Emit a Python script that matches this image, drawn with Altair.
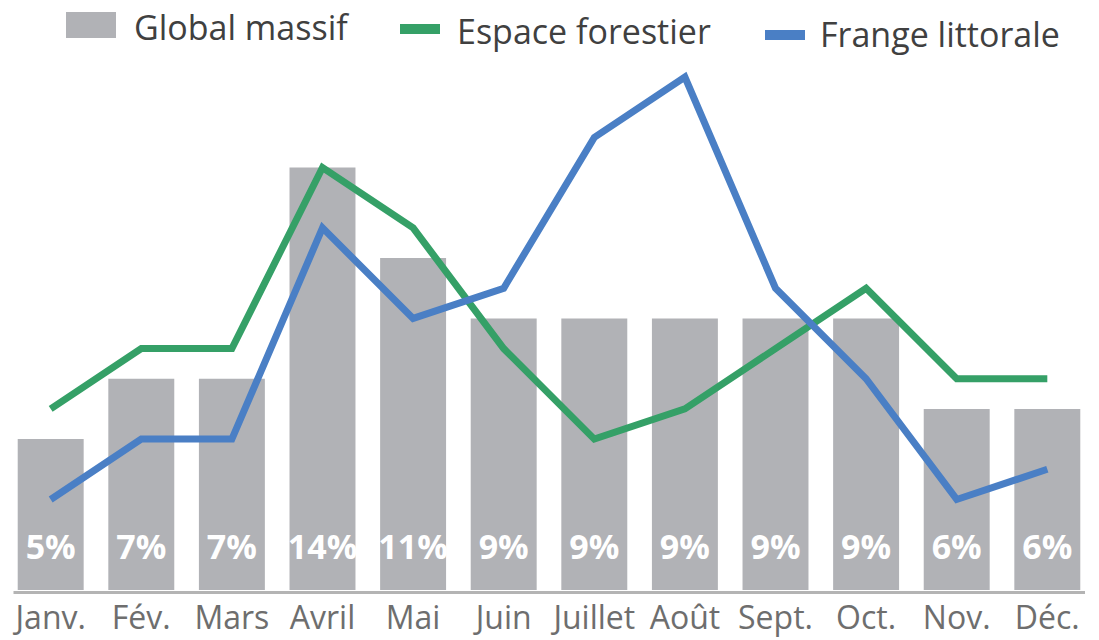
import altair as alt
import pandas as pd

months = ["Janv.", "Fév.", "Mars", "Avril", "Mai", "Juin", "Juillet", "Août", "Sept.", "Oct.", "Nov.", "Déc."]
global_massif = [5, 7, 7, 14, 11, 9, 9, 9, 9, 9, 6, 6]
espace_forestier = [6, 8, 8, 14, 12, 8, 5, 6, 8, 10, 7, 7]
frange_littorale = [3, 5, 5, 12, 9, 10, 15, 17, 10, 7, 3, 4]

series_names = ["Global massif", "Espace forestier", "Frange littorale"]
series_colors = ["#b1b2b6", "#35a067", "#4a7fc5"]

FONT = "Open Sans"

df_bar = pd.DataFrame({"mois": months, "val": global_massif,
                       "lab": [f"{v}%" for v in global_massif]})
df_lines = pd.DataFrame({
    "mois": months * 2,
    "val": espace_forestier + frange_littorale,
    "serie": [series_names[1]] * 12 + [series_names[2]] * 12,
})

x = alt.X("mois:N", sort=months, title=None,
          scale=alt.Scale(paddingInner=0.272, paddingOuter=0.052),
          axis=alt.Axis(labelAngle=0, labelFont=FONT, labelFontSize=32,
                        labelColor="#6e6e6e", labelPadding=11, ticks=False,
                        domainColor="#b4b4b4", domainWidth=3, offset=2,
                        labelBaseline="top"))
y_scale = alt.Scale(domain=[0, 17], nice=False)

bars = alt.Chart(df_bar).mark_bar(color=series_colors[0]).encode(
    x=x,
    y=alt.Y("val:Q", scale=y_scale, axis=None),
)

labels = alt.Chart(df_bar).mark_text(
    font=FONT, fontSize=34, fontWeight="bold", color="white",
    baseline="alphabetic", dy=-31,
).encode(
    x=alt.X("mois:N", sort=months),
    y=alt.Y("zero:Q", scale=y_scale, axis=None),
    text="lab:N",
).transform_calculate(zero="0")

lines = alt.Chart(df_lines).mark_line(strokeWidth=7, strokeJoin="miter").encode(
    x=alt.X("mois:N", sort=months),
    y=alt.Y("val:Q", scale=y_scale, axis=None),
    color=alt.Color("serie:N", scale=alt.Scale(domain=series_names[1:], range=series_colors[1:]),
                    legend=None),
    detail="serie:N",
)

one = pd.DataFrame({"a": [0]})

def leg_rect(x0, x1, y0, y1, color):
    return alt.Chart(one).mark_rect(color=color).encode(
        x=alt.value(x0), x2=alt.value(x1), y=alt.value(y0), y2=alt.value(y1))

def leg_text(xp, yp, txt):
    return alt.Chart(one).mark_text(font=FONT, fontSize=34, color="#404040",
                                    align="left", baseline="middle", text=txt).encode(
        x=alt.value(xp), y=alt.value(yp))

legend = [
    leg_rect(53, 103, -65, -39, series_colors[0]),
    leg_text(121, -47, series_names[0]),
    leg_rect(387, 427, -53, -43, series_colors[1]),
    leg_text(444, -43, series_names[1]),
    leg_rect(752, 792, -47, -37, series_colors[2]),
    leg_text(807, -40, series_names[2]),
]

chart = alt.layer(bars, labels, lines, *legend).properties(
    width=1072, height=513,
    autosize=alt.AutoSizeParams(type="none"),
    padding={"left": 5, "top": 69, "right": 0, "bottom": 60},
).configure_view(stroke=None)

chart.save("out.html", embed_options={"renderer": "svg", "actions": False})
